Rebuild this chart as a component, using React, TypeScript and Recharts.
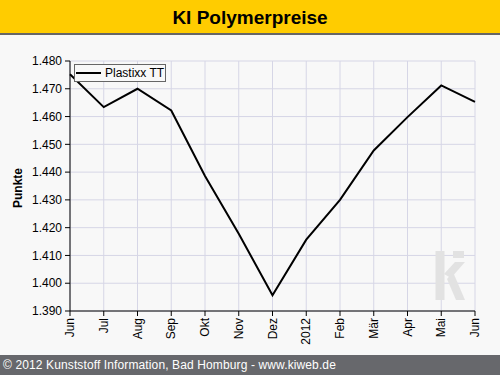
import React from 'react';
import { LineChart, Line, XAxis, YAxis, CartesianGrid, Customized } from 'recharts';

const months = ['Jun', 'Jul', 'Aug', 'Sep', 'Okt', 'Nov', 'Dez', '2012', 'Feb', 'Mär', 'Apr', 'Mai', 'Jun'];
const plastixxTT = [1475.2, 1463.4, 1470.0, 1462.2, 1438.6, 1417.8, 1395.7, 1415.7, 1430.0, 1447.8, 1459.8, 1471.2, 1465.3];
const yTicks = [1390, 1400, 1410, 1420, 1430, 1440, 1450, 1460, 1470, 1480];
const seriesName = 'Plastixx TT';
const titleText = 'KI Polymerpreise';
const footerText = '© 2012 Kunststoff Information, Bad Homburg - www.kiweb.de';
const yLabel = 'Punkte';

const data = months.map((m, i) => ({ month: m, idx: i, value: plastixxTT[i] }));

const FONT = '"Liberation Sans", Arial, sans-serif';

const fmt = (v: number) => {
  const th = Math.floor(v / 1000);
  const rest = Math.round(v - th * 1000);
  return `${th}.${String(rest).padStart(3, '0')}`;
};

const XTick = (props: any) => {
  const { x, y, payload } = props;
  return (
    <text
      x={x}
      y={y}
      transform={`rotate(-90 ${x} ${y})`}
      textAnchor="end"
      dominantBaseline="central"
      fontFamily={FONT}
      fontSize={12}
      fill="#000"
    >
      {months[payload.value]}
    </text>
  );
};

const LegendBox = () => (
  <div
    style={{
      position: 'absolute',
      left: 74,
      top: 64,
      width: 90,
      height: 16,
      border: '1px solid #666',
      background: '#f8f8f8',
      fontFamily: FONT,
      fontSize: 12,
      boxSizing: 'content-box',
    }}
  >
    <div style={{ position: 'absolute', left: 1, top: 7, width: 25, height: 2, background: '#000' }} />
    <div style={{ position: 'absolute', left: 30, top: 1, lineHeight: '14px', color: '#000', whiteSpace: 'nowrap' }}>
      {seriesName}
    </div>
  </div>
);

const Watermark = () => (
  <g fill="#e2e2e2">
    <rect x={435.5} y={251} width={9} height={49} />
    <rect x={453} y={251} width={11} height={7} />
    <polygon points="444,274 455,262 465,262 451,278" />
    <polygon points="447,279 453,272 465,300 456,300" />
  </g>
);

export default function App() {
  return (
    <div
      style={{
        position: 'absolute',
        left: 0,
        top: 0,
        width: 500,
        height: 375,
        background: '#f8f8f8',
        overflow: 'hidden',
      }}
    >
      <div
        style={{
          position: 'absolute',
          left: 0,
          top: 0,
          width: 500,
          height: 33,
          background: '#ffcc00',
          borderBottom: '2px solid #666',
          textAlign: 'center',
          fontFamily: FONT,
          fontWeight: 'bold',
          fontSize: 19,
          lineHeight: '35px',
          color: '#000',
        }}
      >
        {titleText}
      </div>
      <div style={{ position: 'absolute', left: 0, top: 0 }}>
        <LineChart width={500} height={375} data={data} margin={{ top: 61, right: 25, bottom: 20, left: 0 }}>
          <Customized component={Watermark} />
          <CartesianGrid stroke="#d6d6e6" strokeWidth={1} />
          <XAxis
            dataKey="idx"
            type="number"
            domain={[0, 12]}
            ticks={months.map((_, i) => i)}
            interval={0}
            height={44}
            tickSize={5}
            tickMargin={2}
            axisLine={{ stroke: '#000' }}
            tickLine={{ stroke: '#000' }}
            tick={<XTick />}
          />
          <XAxis xAxisId="top" orientation="top" dataKey="idx" type="number" domain={[0, 12]} height={0} tick={false} tickLine={false} axisLine={{ stroke: '#000' }} />
          <YAxis
            domain={[1390, 1480]}
            ticks={yTicks}
            interval={0}
            width={70}
            tickSize={5}
            tickMargin={3}
            tickFormatter={fmt}
            axisLine={{ stroke: '#000' }}
            tickLine={{ stroke: '#000' }}
            tick={{ fill: '#000', fontSize: 12, fontFamily: FONT }}
            label={{
              content: () => (
                <text
                  x={17.5}
                  y={188}
                  transform="rotate(-90 17.5 188)"
                  textAnchor="middle"
                  dominantBaseline="central"
                  fontFamily={FONT}
                  fontWeight="bold"
                  fontSize={12}
                  fill="#000"
                >
                  {yLabel}
                </text>
              ),
            }}
          />
          <YAxis yAxisId="right" orientation="right" domain={[1390, 1480]} width={0} tick={false} tickLine={false} axisLine={{ stroke: '#000' }} />
          <Line
            type="linear"
            dataKey="value"
            name={seriesName}
            stroke="#000"
            strokeWidth={2}
            dot={false}
            isAnimationActive={false}
          />
        </LineChart>
      </div>
      <LegendBox />
      <div
        style={{
          position: 'absolute',
          left: 0,
          top: 355,
          width: 500,
          height: 20,
          background: '#67686c',
          color: '#fff',
          fontFamily: FONT,
          fontSize: 12,
          letterSpacing: '0.12px',
          lineHeight: '20px',
          paddingLeft: 3,
          whiteSpace: 'nowrap',
        }}
      >
        {footerText}
      </div>
    </div>
  );
}
